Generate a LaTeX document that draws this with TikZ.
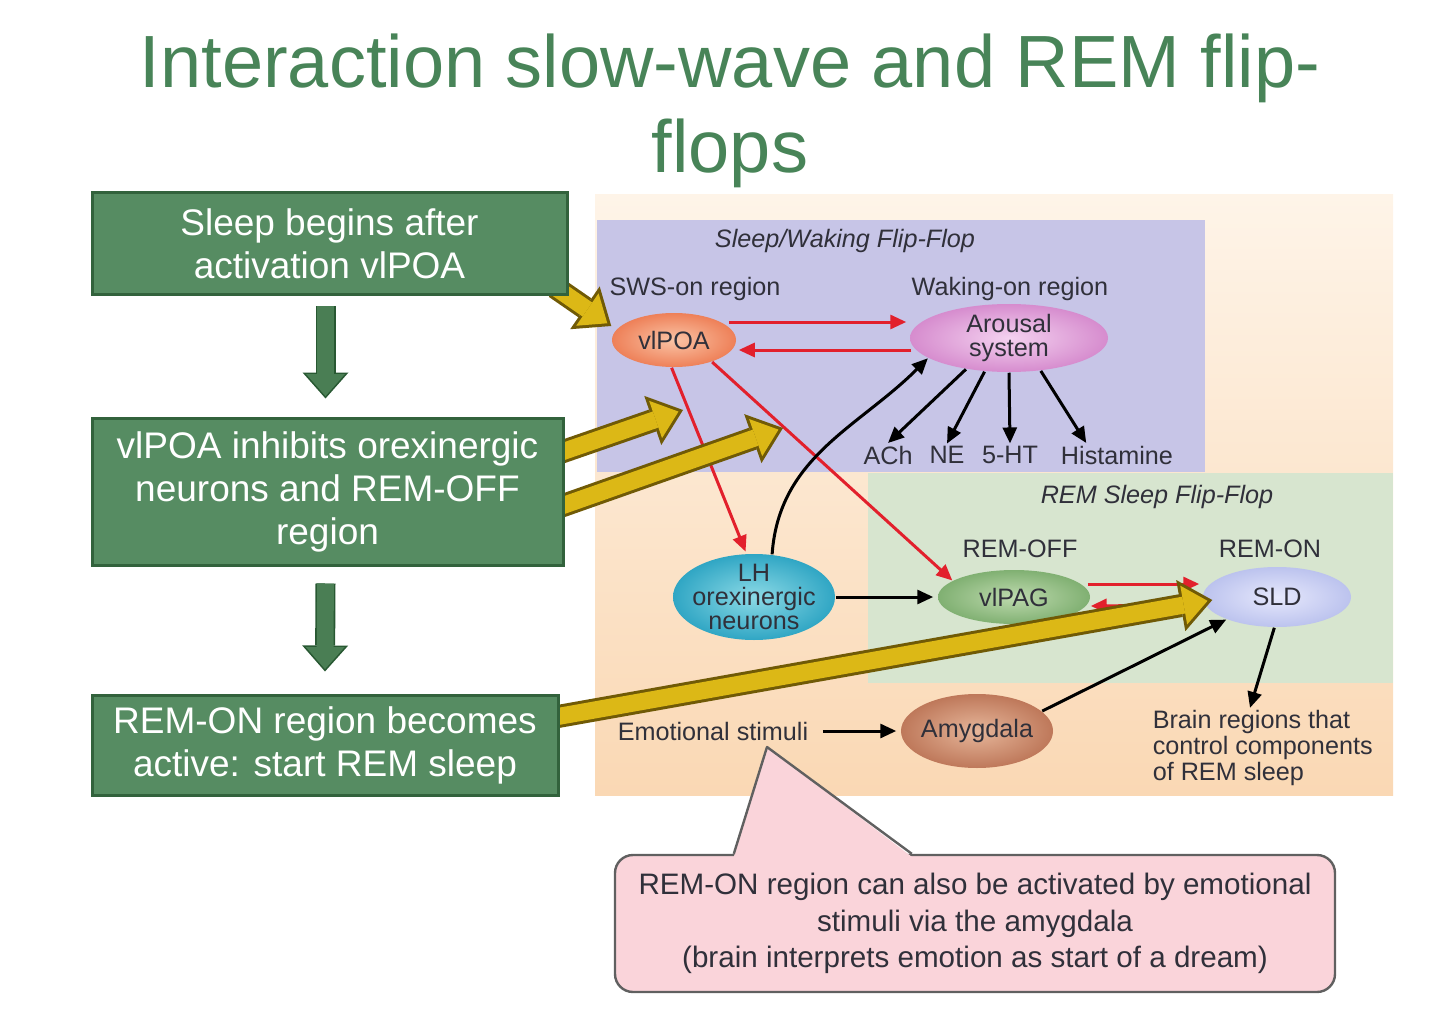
\documentclass[tikz,border=0pt]{standalone}
\usepackage{fontspec}
\setmainfont{Liberation Sans}
\usetikzlibrary{arrows.meta,calc,positioning,shapes.geometric}
\tikzset{every picture/.style={line width=0.75pt}}

\definecolor{titlegreen}{RGB}{72,132,88}
\definecolor{boxgreen}{RGB}{86,140,98}
\definecolor{boxedge}{RGB}{50,98,60}
\definecolor{stemfill}{RGB}{74,126,84}
\definecolor{stemedge}{RGB}{40,88,50}
\definecolor{goldfill}{RGB}{220,184,22}
\definecolor{goldedge}{RGB}{112,90,6}
\definecolor{peachtop}{RGB}{254,244,232}
\definecolor{peachbot}{RGB}{250,216,180}
\definecolor{wakeblue}{RGB}{199,197,231}
\definecolor{remgreen}{RGB}{215,229,207}
\definecolor{inkred}{RGB}{226,32,44}
\definecolor{ink}{RGB}{48,48,58}
\definecolor{notepink}{RGB}{250,212,218}
\definecolor{noteedge}{RGB}{96,96,96}

\pgfdeclarelayer{front}
\pgfsetlayers{main,front}

\tikzset{
  stepbox/.style={draw=boxedge, line width=1.5pt, fill=boxgreen, text=white, align=center,
    inner sep=0pt, font=\fontsize{18.5}{21.5}\selectfont},
  titletext/.style={text=titlegreen, align=center, font=\fontsize{37}{42.5}\selectfont},
  lbl/.style={text=ink, inner sep=1pt, align=center, font=\fontsize{12.6}{11.8}\selectfont},
  flipflop/.style={lbl, font=\fontsize{12.6}{11.8}\selectfont\itshape},
  brainpart/.style={ellipse, shade, draw=none, inner sep=0pt},
  redarrow/.style={draw=inkred, line width=1.5pt, -{Triangle[length=8pt,width=7pt]}},
  blackarrow/.style={draw=black, line width=1.5pt, -{Triangle[length=8pt,width=7pt]}},
  goldrim/.style={draw=goldedge, line width=11.5pt, -{Triangle[length=16pt,width=26pt,line width=0pt]}},
  goldcore/.style={draw=goldfill, line width=8.5pt, shorten >=2.4pt,
    -{Triangle[length=12.1pt,width=19.7pt,line width=0pt]}},
  stemrim/.style={draw=stemedge, line width=10pt, -{Triangle[length=13pt,width=23pt,line width=0pt]}},
  stemcore/.style={draw=stemfill, line width=8.4pt, shorten >=1.2pt,
    -{Triangle[length=11pt,width=19.4pt,line width=0pt]}},
  notebox/.style={draw=noteedge, line width=1.2pt, fill=notepink, rounded corners=9pt, text=ink,
    align=center, font=\fontsize{14.8}{18.3}\selectfont}
}

\begin{document}
\begin{tikzpicture}[x=0.5pt,y=0.5pt,yscale=-1,xscale=1]
\useasboundingbox (0,0) rectangle (1440,1016);

%Shape: Rectangle [panels]
\fill[top color=peachtop, bottom color=peachbot] (595,195) rectangle (1393,795);
\fill[wakeblue] (597,220) rectangle (1205,472);
\fill[remgreen] (868,473) rectangle (1393,683);

% Text Node
\node[titletext] (title) at (730,111) {Interaction slow-wave and REM flip-\\flops};

% Text Node
\node[flipflop] (wakeflip) at (845,241) {Sleep/Waking Flip-Flop};
\node[lbl] (swson) at (695,289) {SWS-on region};
\node[lbl] (wakeon) at (1010,289) {Waking-on region};
\node[flipflop] (remflip) at (1157,497) {REM Sleep Flip-Flop};
\node[lbl] (remoff) at (1020,549) {REM-OFF};
\node[lbl] (remon) at (1270,549) {REM-ON};
\node[lbl] (ach) at (888,455) {ACh};
\node[lbl] (ne) at (947,455) {NE};
\node[lbl] (ht) at (1010,455) {5-HT};
\node[lbl] (hist) at (1117,455) {Histamine};
\node[lbl] (emo) at (713,731) {Emotional stimuli};
\node[lbl, anchor=west, align=left, font=\fontsize{12.6}{12.8}\selectfont] (brain) at (1150,748)
  {Brain regions that\\control components\\of REM sleep};

%Shape: Ellipse
\node[brainpart, minimum width=62pt, minimum height=27pt, inner color={rgb,255:red,250;green,196;blue,166},
  outer color={rgb,255:red,238;green,128;blue,88}, label={[lbl]center:vlPOA}] (vlpoa) at (674,340) {};
\node[brainpart, minimum width=99pt, minimum height=34pt, inner color={rgb,255:red,244;green,210;blue,240},
  outer color={rgb,255:red,214;green,140;blue,206}, label={[lbl]center:Arousal\\system}] (arousal) at (1009,338) {};
\node[brainpart, minimum width=81pt, minimum height=43pt, inner color={rgb,255:red,140;green,218;blue,230},
  outer color={rgb,255:red,48;green,166;blue,196}, label={[lbl]center:LH\\orexinergic\\neurons}] (lh) at (754,597) {};
\node[brainpart, minimum width=76pt, minimum height=27pt, inner color={rgb,255:red,190;green,218;blue,174},
  outer color={rgb,255:red,128;green,176;blue,114}, label={[lbl]center:vlPAG}] (vlpag) at (1014,597) {};
\node[brainpart, minimum width=74pt, minimum height=30pt, inner color={rgb,255:red,230;green,232;blue,252},
  outer color={rgb,255:red,188;green,195;blue,238}, label={[lbl]center:SLD}] (sld) at (1277,597) {};
\node[brainpart, minimum width=76pt, minimum height=37pt, inner color={rgb,255:red,230;green,182;blue,154},
  outer color={rgb,255:red,190;green,120;blue,90}, label={[lbl]center:Amygdala}] (amygdala) at (977,731) {};

%Straight Lines [red]
\draw[redarrow] ($(vlpoa.east)+(-8,-18)$) -- ($(arousal.west)+(-3,-16)$);
\draw[redarrow] ($(arousal.west)+(2,12)$) -- ($(vlpoa.east)+(2,10)$);
\draw[redarrow, shorten >=1pt] (vlpoa.265) -- (lh.100);
\draw[redarrow] (vlpoa.-30) -- (vlpag.165);
\draw[redarrow] ($(vlpag.east)+(-3,-13)$) -- ($(sld.west)+(-3,-13)$);
\draw[redarrow] ($(sld.west)+(-3,8)$) -- ($(vlpag.east)+(0,9)$);

%Straight Lines [black]
\draw[blackarrow] (lh.67) to[out=-86, in=135] (arousal.194);
\draw[blackarrow, shorten >=2pt] (lh.east) -- (vlpag.west);
\draw[blackarrow] (arousal.216) -- (ach.north);
\draw[blackarrow] (arousal.234) -- (ne.north);
\draw[blackarrow] (arousal.south) -- (ht.north);
\draw[blackarrow] (arousal.314) -- ($(hist.north west)+(28,0)$);
\draw[blackarrow, shorten <=6pt, shorten >=2pt] (emo.east) -- (amygdala.west);
\draw[blackarrow] (amygdala.17) -- (sld.204);
\draw[blackarrow] (sld.265) -- ($(brain.north west)+(100,0)$);

%Shape: Rectangle [steps]
\begin{pgfonlayer}{front}
\node[stepbox, minimum width=237.5pt, minimum height=51pt] (sleepbox) at (329.5,244)
  {Sleep begins after\\activation vlPOA};
\node[stepbox, minimum width=235.5pt, minimum height=73.5pt] (inhibitbox) at (327.5,491.5)
  {vlPOA inhibits orexinergic\\neurons and REM-OFF\\region};
\node[stepbox, minimum width=233pt, minimum height=50pt] (rembox) at (325,745)
  {REM-ON region becomes\\active: start REM sleep};
\draw[stemrim] ($(sleepbox.south)+(-4,10)$) -- ($(inhibitbox.north)+(-2,-18)$);
\draw[stemcore] ($(sleepbox.south)+(-4,10)$) -- ($(inhibitbox.north)+(-2,-18)$);
\draw[stemrim] ($(inhibitbox.south)+(-2,17)$) -- ($(rembox.north)+(0,-22)$);
\draw[stemcore] ($(inhibitbox.south)+(-2,17)$) -- ($(rembox.north)+(0,-22)$);
\end{pgfonlayer}

%Block Arrows [gold]
\coordinate (orexinaim) at (683,410);
\coordinate (remoffaim) at (783,428);
\draw[goldrim, shorten <=-8pt] (sleepbox.south east) -- ($(vlpoa.west)+(0,-14)$);
\draw[goldcore, shorten <=-8pt] (sleepbox.south east) -- ($(vlpoa.west)+(0,-14)$);
\draw[goldrim] ($(inhibitbox.east)+(-10,-37)$) -- (orexinaim);
\draw[goldcore] ($(inhibitbox.east)+(-10,-37)$) -- (orexinaim);
\draw[goldrim] ($(inhibitbox.east)+(-10,17)$) -- (remoffaim);
\draw[goldcore] ($(inhibitbox.east)+(-10,17)$) -- (remoffaim);
\draw[goldrim] ($(rembox.east)+(-10,-27)$) -- ($(sld.west)+(10,3)$);
\draw[goldcore] ($(rembox.east)+(-10,-27)$) -- ($(sld.west)+(10,3)$);

%Shape: Callout
\node[notebox, minimum width=360pt, minimum height=68.5pt] (note) at (975,923.5)
  {REM-ON region can also be activated by emotional\\stimuli via the amygdala\\(brain interprets emotion as start of a dream)};
\coordinate (notetip) at (767,747);
\fill[notepink] ($(note.north west)+(120,3)$) -- (notetip) -- ($(note.north west)+(298,3)$) -- cycle;
\draw[noteedge, line width=1.2pt, line join=round] ($(note.north west)+(120,0)$) -- (notetip) -- ($(note.north west)+(298,0)$);

\end{tikzpicture}
\end{document}
